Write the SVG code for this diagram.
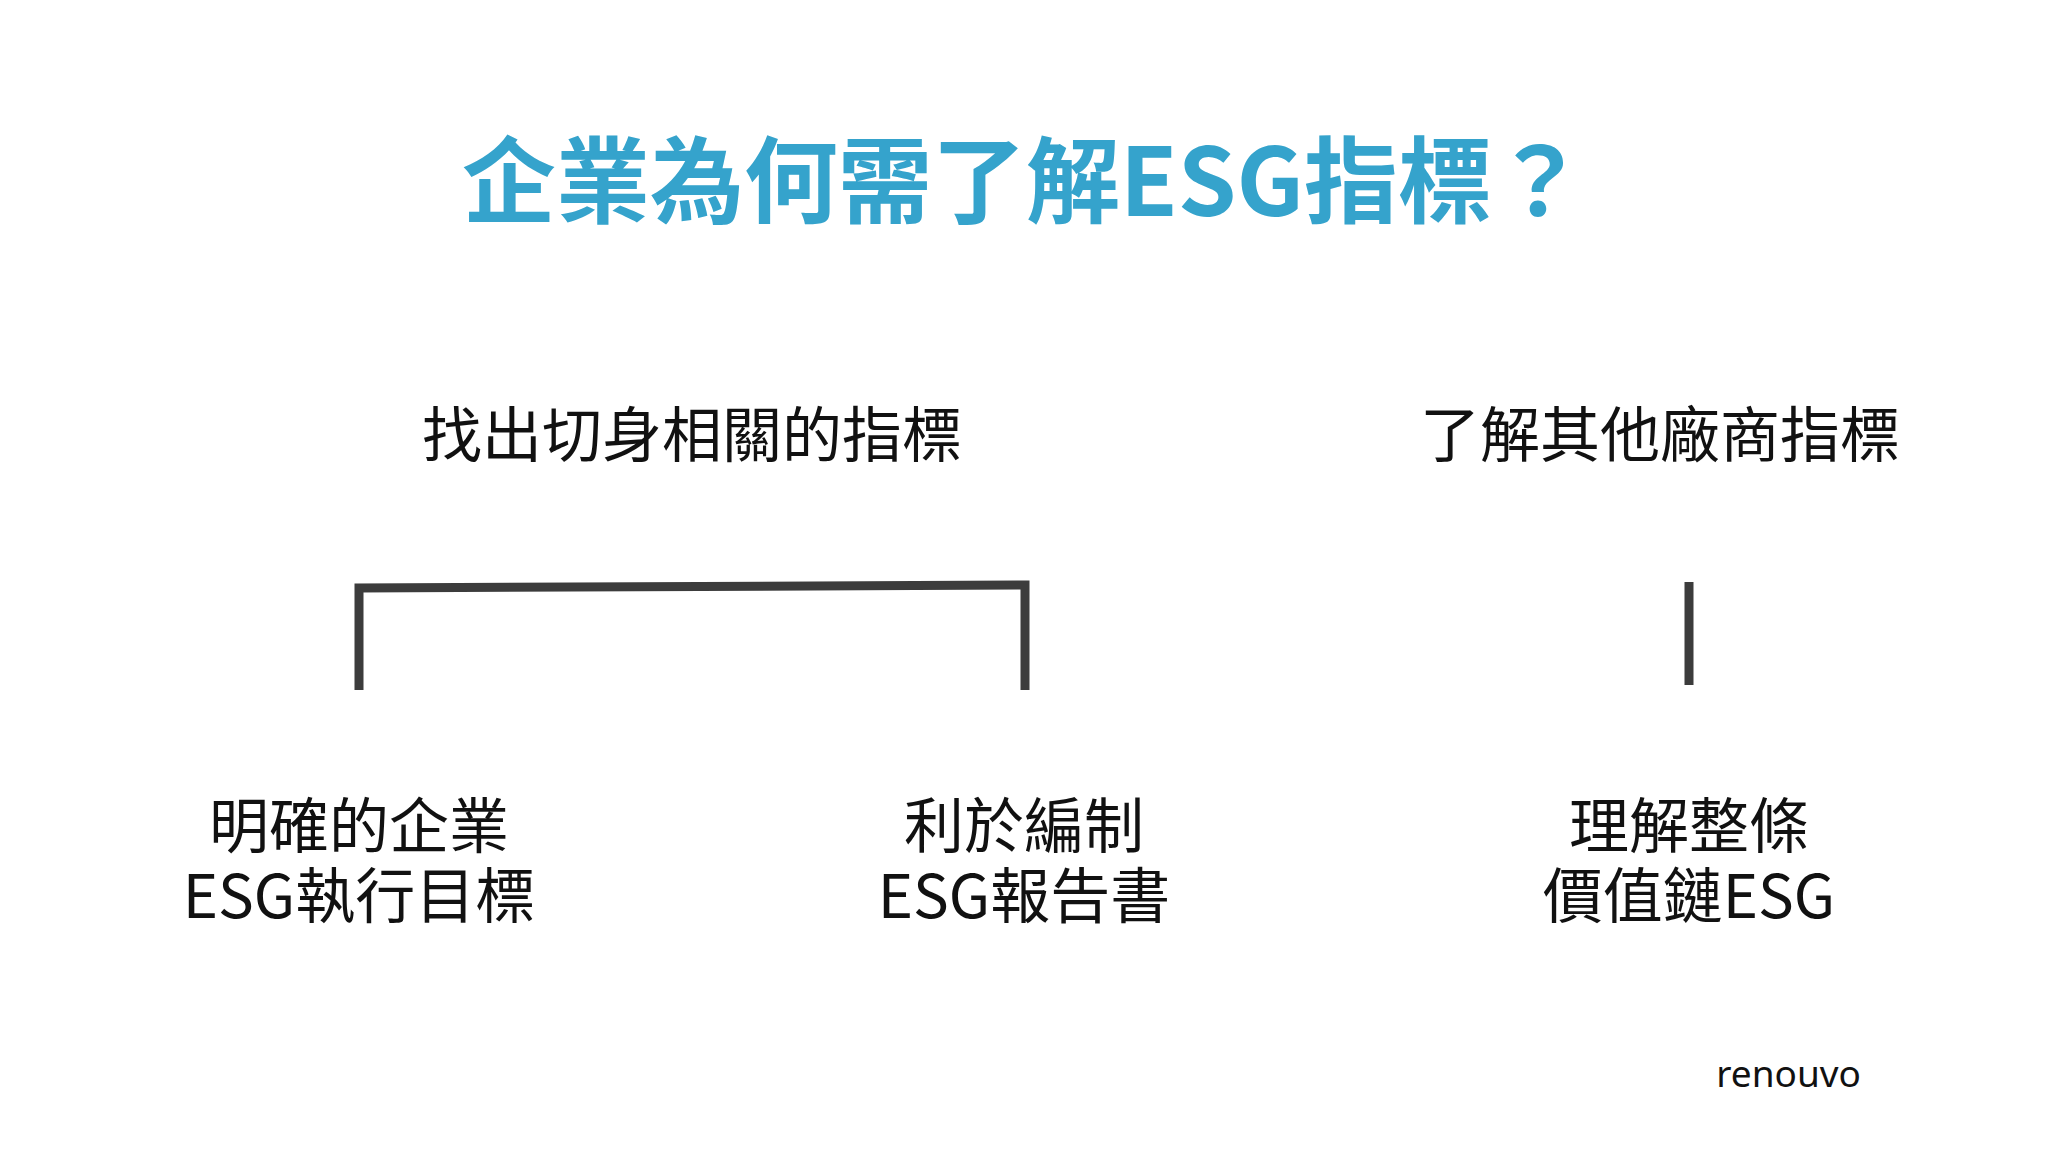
<svg xmlns="http://www.w3.org/2000/svg" width="2048" height="1152" viewBox="0 0 2048 1152">
<style>
.title{font-family:"Noto Sans CJK TC","Noto Sans",sans-serif;font-weight:700;font-size:94px;fill:#35A3CC;text-anchor:middle}
.lbl{font-family:"Noto Sans CJK TC","Noto Sans",sans-serif;font-size:60px;fill:#111;text-anchor:middle}
.brand{font-family:"Noto Sans","Open Sans",sans-serif;font-size:37px;fill:#111}
.conn{stroke:#3c3c3c;stroke-width:9;fill:none;stroke-linecap:butt}
</style>
<rect width="2048" height="1152" fill="#ffffff"/>
<g id="title"><text class="title" x="1024" y="216">企業為何需了解ESG指標？</text></g>
<g id="node-find"><text class="lbl" x="692" y="457">找出切身相關的指標</text></g>
<g id="node-others"><text class="lbl" x="1660" y="457">了解其他廠商指標</text></g>
<g id="node-goal"><text class="lbl" x="359" y="848">明確的企業</text><text class="lbl" x="359" y="918">ESG執行目標</text></g>
<g id="node-report"><text class="lbl" x="1024" y="848">利於編制</text><text class="lbl" x="1024" y="918">ESG報告書</text></g>
<g id="node-chain"><text class="lbl" x="1689" y="848">理解整條</text><text class="lbl" x="1689" y="918">價值鏈ESG</text></g>
<g id="connectors">
<path class="conn" d="M359 690 V588 L1025 585 V690"/>
<path class="conn" d="M1689 582 V685"/>
</g>
<g id="brand"><text class="brand" x="1861" y="1087" text-anchor="end">renouvo</text></g>
</svg>
